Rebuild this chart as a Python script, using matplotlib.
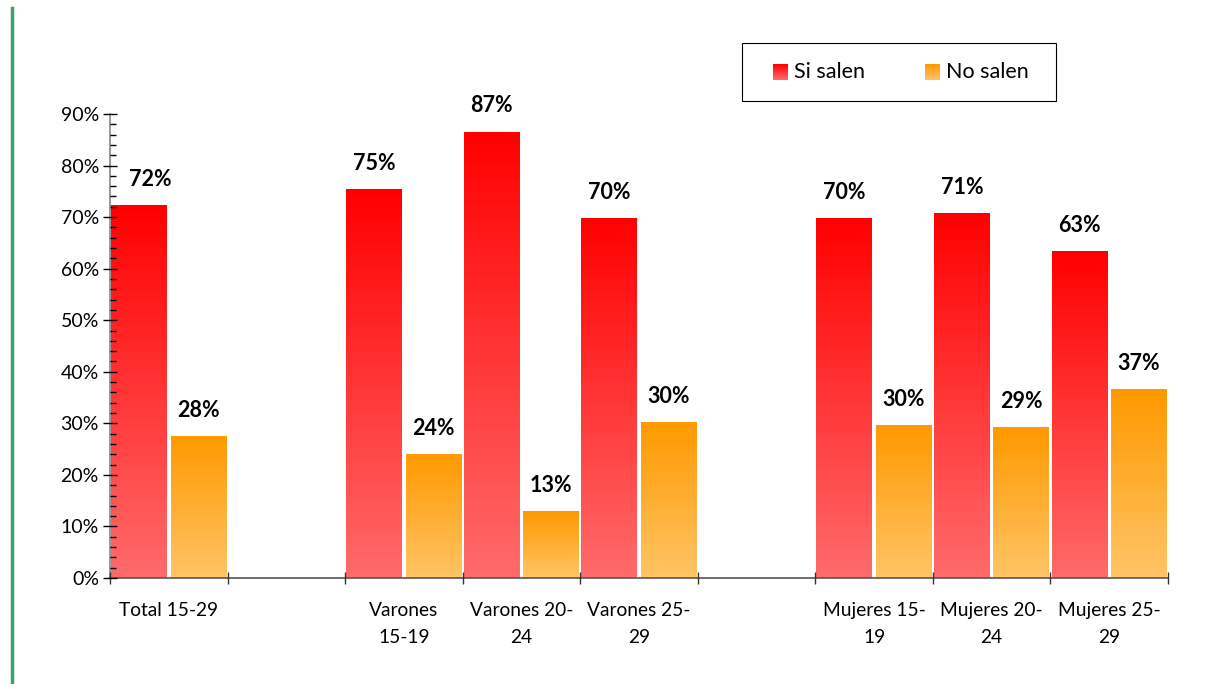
"""Bar chart: jóvenes que salen / no salen, by sex and age group."""

import numpy as np
import matplotlib
matplotlib.use("Agg")
import matplotlib.pyplot as plt
from matplotlib.colors import LinearSegmentedColormap
from matplotlib.patches import Rectangle

plt.rcParams['font.family'] = ['Lato', 'DejaVu Sans']

# category slots; empty strings are the gaps between groups
categories = ["Total 15-29", "", "Varones\n15-19", "Varones 20-\n24", "Varones 25-\n29",
              "", "Mujeres 15-\n19", "Mujeres 20-\n24", "Mujeres 25-\n29"]
si_salen = [72.3, None, 75.4, 86.6, 69.8, None, 69.8, 70.8, 63.4]
no_salen = [27.6, None, 24.1, 13.0, 30.3, None, 29.7, 29.3, 36.7]
series_names = ["Si salen", "No salen"]
yticks = [0, 10, 20, 30, 40, 50, 60, 70, 80, 90]

RED_CMAP = LinearSegmentedColormap.from_list("red", ["#ff6b6b", "#ff0000"])
ORANGE_CMAP = LinearSegmentedColormap.from_list("orange", ["#ffc466", "#ff9900"])
GRADIENT = np.linspace(0, 1, 256).reshape(-1, 1)


def gradient_bars(ax, bars, cmap):
    """Paint each bar with a vertical gradient clipped to its rectangle."""
    for bar in bars:
        if bar.get_height() <= 0:
            continue
        x0, y0 = bar.get_x(), bar.get_y()
        x1, y1 = x0 + bar.get_width(), y0 + bar.get_height()
        img = ax.imshow(GRADIENT, extent=[x0, x1, y0, y1], origin='lower',
                        aspect='auto', cmap=cmap, zorder=2)
        img.set_clip_path(bar)


fig = plt.figure(figsize=(12.06, 6.84), dpi=100)
ax = fig.add_axes([110 / 1206, 1 - 578 / 684, (1168 - 110) / 1206, (578 - 114) / 684])

x = np.arange(len(categories)) + 0.5
width = 0.476
offset = 0.253

red_vals = [v if v is not None else 0 for v in si_salen]
orange_vals = [v if v is not None else 0 for v in no_salen]
red_bars = ax.bar(x - offset, red_vals, width, facecolor='none', edgecolor='none', zorder=2)
orange_bars = ax.bar(x + offset, orange_vals, width, facecolor='none', edgecolor='none', zorder=2)
gradient_bars(ax, red_bars, RED_CMAP)
gradient_bars(ax, orange_bars, ORANGE_CMAP)

# data labels above bars (the first one is nudged off the axis, as in the original)
for xs, vals in ((x - offset, si_salen), (x + offset, no_salen)):
    for xi, v in zip(xs, vals):
        if v is None:
            continue
        dx = 8 if xi < 0.5 else 0
        ax.annotate(f"{round(v):.0f}%", (xi, v), xytext=(dx, 18.5), textcoords='offset points',
                    ha='center', va='center', fontsize=15.5, fontweight='bold', color='black')

ax.set_xlim(0, len(categories))
ax.set_ylim(0, 90)
ax.set_axisbelow(False)

ax.set_yticks(yticks)
ax.set_yticklabels([f"{t}%" for t in yticks])
ax.set_yticks(np.arange(0, 91, 2), minor=True)
ax.tick_params(axis='y', which='major', direction='inout', length=10, width=1,
               color='black', labelsize=14, pad=3)
ax.tick_params(axis='y', which='minor', direction='in', length=4, width=1, color='black')

ax.set_xticks(np.arange(len(categories) + 1))
ax.set_xticklabels([])
ax.set_xticks(x, minor=True)
ax.set_xticklabels(categories, minor=True, linespacing=1.75)
ax.tick_params(axis='x', which='major', direction='inout', length=8, width=1, color='#333333')
ax.tick_params(axis='x', which='minor', length=0, labelsize=13.8, pad=17)

for name in ('top', 'right'):
    ax.spines[name].set_visible(False)
ax.spines['left'].set_color('#888888')
ax.spines['bottom'].set_color('#555555')
ax.spines['left'].set_linewidth(1.2)
ax.spines['bottom'].set_linewidth(1.2)

# legend box drawn by hand so the swatches can carry the gradient
fig.patches.append(Rectangle((742 / 1206, 1 - 101 / 684), 314 / 1206, 58 / 684,
                             transform=fig.transFigure, facecolor='white',
                             edgecolor='black', linewidth=0.8, zorder=0))
for sx, name, cmap in ((773, series_names[0], RED_CMAP), (925, series_names[1], ORANGE_CMAP)):
    sw = fig.add_axes([sx / 1206, 1 - 80 / 684, 15 / 1206, 16 / 684])
    sw.set_zorder(3)
    sw.imshow(GRADIENT, origin='lower', aspect='auto', cmap=cmap)
    sw.set_axis_off()
    fig.text((sx + 21) / 1206, 1 - 72 / 684, name, ha='left', va='center', fontsize=15.5)

# green rule on the left edge
fig.add_artist(plt.Line2D([12 / 1206, 12 / 1206], [0, 1 - 8 / 684], transform=fig.transFigure,
                          color='#3d9e6e', linewidth=2.5))

fig.savefig("out.png", dpi=100)
